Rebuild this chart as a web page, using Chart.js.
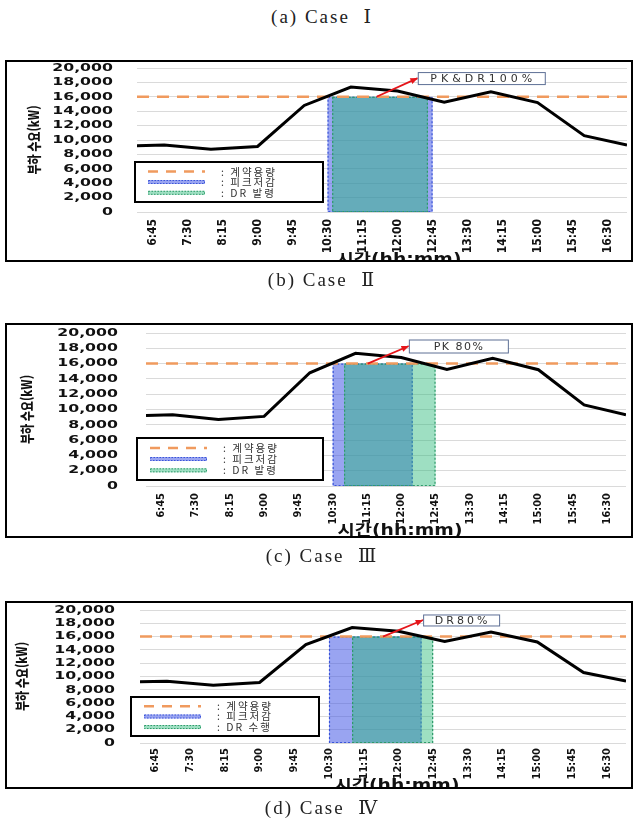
<!DOCTYPE html>
<html lang="ko">
<head>
<meta charset="UTF-8">
<title>부하 수요 - Case II~IV</title>
<script src="https://cdn.jsdelivr.net/npm/chart.js"></script>
<style>
  body { margin: 0; background: #fff; width: 633px; height: 822px; position: relative; overflow: hidden; }
  .cap { position: absolute; left: 0; width: 644px; line-height: 20px; text-align: center; white-space: pre;
         font-family: 'Liberation Serif', 'DejaVu Serif', serif; font-size: 19px; color: #222; letter-spacing: 2px; }
  .panel { position: absolute; left: 5px; width: 628px; overflow: hidden; }
  .panel canvas { position: absolute; left: 0; top: 0; }
  .frame { position: absolute; left: 0; top: 0; right: 0; bottom: 0; border: 2px solid #000; box-sizing: border-box; }
</style>
</head>
<body>

<div class="cap" id="cap0" style="top:7px"></div>
<div class="panel" style="top:60px;height:202px"><canvas id="c1" width="628" height="202"></canvas><div class="frame"></div></div>
<div class="cap" id="cap1" style="top:270px"></div>
<div class="panel" style="top:323px;height:215px"><canvas id="c2" width="628" height="215"></canvas><div class="frame"></div></div>
<div class="cap" id="cap2" style="top:546px"></div>
<div class="panel" style="top:601px;height:188px"><canvas id="c3" width="628" height="188"></canvas><div class="frame"></div></div>
<div class="cap" id="cap3" style="top:798px"></div>

<script>
  // load curve (kW) - same in all three cases
  const times = ['6:25', '7:00', '8:00', '9:00', '10:00', '11:00', '12:00', '13:00', '14:00', '15:00', '16:00', '16:55'];
  const loadKW = [9200, 9300, 8700, 9100, 14800, 17350, 16800, 15250, 16700, 15200, 10600, 9300];
  const contractKW = 16000;
  const tickLabels = ['6:45', '7:30', '8:15', '9:00', '9:45', '10:30', '11:15', '12:00', '12:45', '13:30', '14:15', '15:00', '15:45', '16:30'];

  // shaded periods [start, end]
  const peakCutII = ['10:30', '12:45'];
  const drIssueII = ['10:36', '12:39'];
  const peakCutIII = ['10:30', '12:15'];
  const drIssueIII = ['10:45', '12:45'];
  const peakCutIV = ['10:30', '12:30'];
  const drDoneIV = ['11:00', '12:45'];

  const captions = ['(a) Case  Ⅰ', '(b) Case  Ⅱ', '(c) Case  Ⅲ', '(d) Case  Ⅳ'];
  const notes = ['PK&DR100%', 'PK 80%', 'DR80%'];
  const legendIssue = [': 계약용량', ': 피크저감', ': DR 발령'];
  const legendDone = [': 계약용량', ': 피크저감', ': DR 수행'];

  const ORANGE = '#F09A5E';
  const BLUE_FILL = 'rgba(70, 90, 230, 0.55)';
  const BLUE_EDGE = '#3a55d8';
  const GREEN_FILL = 'rgba(40, 185, 120, 0.45)';
  const GREEN_EDGE = '#2f9a6a';

  captions.forEach((c, i) => { document.getElementById('cap' + i).textContent = c; });

  function toMin(t) {
    const [h, m] = t.split(':').map(Number);
    return h * 60 + m;
  }
  function fmt(v) {
    return Math.floor(v / 60) + ':' + String(v % 60).padStart(2, '0');
  }

  function makeOverlay(g) {
    return {
      id: 'overlay',
      beforeDatasetsDraw(chart) {
        const { ctx, scales: { x, y } } = chart;
        const yb = y.getPixelForValue(0), yt = y.getPixelForValue(contractKW);
        g.bands.forEach(b => {
          const x0 = x.getPixelForValue(toMin(b.span[0]));
          const x1 = x.getPixelForValue(toMin(b.span[1]));
          ctx.save();
          ctx.fillStyle = b.fill;
          ctx.fillRect(x0, yt, x1 - x0, yb - yt);
          ctx.strokeStyle = b.edge;
          ctx.lineWidth = 1.2;
          ctx.setLineDash([2, 2]);
          ctx.strokeRect(x0 + 0.5, yt + 0.5, x1 - x0 - 1, yb - yt - 1);
          ctx.restore();
        });
      },
      afterDatasetsDraw(chart) {
        const { ctx, scales: { x, y } } = chart;
        ctx.save();

        // legend box inside the plot
        const L = g.legend;
        ctx.fillStyle = '#fff';
        ctx.fillRect(L.x, L.y, L.w, L.h);
        ctx.lineWidth = 2;
        ctx.strokeStyle = '#000';
        ctx.strokeRect(L.x, L.y, L.w, L.h);
        const rows = [0.24, 0.5, 0.77].map(f => L.y + L.h * f);
        const sx0 = L.x + 13, sx1 = L.x + 70;
        ctx.strokeStyle = ORANGE;
        ctx.lineWidth = 2.5;
        ctx.setLineDash([10, 8]);
        ctx.beginPath();
        ctx.moveTo(sx0, rows[0]);
        ctx.lineTo(sx1, rows[0]);
        ctx.stroke();
        ctx.setLineDash([1.5, 1.5]);
        ctx.lineWidth = 1;
        [[BLUE_FILL, BLUE_EDGE], [GREEN_FILL, GREEN_EDGE]].forEach(([f, e], i) => {
          const ry = rows[i + 1] - 2;
          ctx.fillStyle = f;
          ctx.fillRect(sx0, ry, sx1 - sx0, 4);
          ctx.strokeStyle = e;
          ctx.strokeRect(sx0 + 0.5, ry + 0.5, sx1 - sx0 - 1, 3);
        });
        ctx.setLineDash([]);
        ctx.fillStyle = '#333';
        ctx.font = "10.5px 'Noto Sans CJK KR', sans-serif";
        ctx.textBaseline = 'middle';
        ctx.textAlign = 'left';
        ctx.letterSpacing = '2px';
        g.legendText.forEach((t, i) => ctx.fillText(t, L.x + 86, rows[i]));

        // red arrow + note box
        const N = g.note;
        const ax = x.getPixelForValue(toMin(N.tail[0])), ay = y.getPixelForValue(N.tail[1]);
        const bx = x.getPixelForValue(toMin(N.tip[0])), by = y.getPixelForValue(N.tip[1]);
        ctx.strokeStyle = '#e5151a';
        ctx.fillStyle = '#e5151a';
        ctx.lineWidth = 1.8;
        ctx.beginPath();
        ctx.moveTo(ax, ay);
        ctx.lineTo(bx, by);
        ctx.stroke();
        const ang = Math.atan2(by - ay, bx - ax);
        ctx.beginPath();
        ctx.moveTo(bx, by);
        ctx.lineTo(bx - 8 * Math.cos(ang - 0.4), by - 8 * Math.sin(ang - 0.4));
        ctx.lineTo(bx - 8 * Math.cos(ang + 0.4), by - 8 * Math.sin(ang + 0.4));
        ctx.closePath();
        ctx.fill();
        ctx.fillStyle = '#fff';
        ctx.fillRect(bx, by - N.h / 2, N.w, N.h);
        ctx.strokeStyle = '#5d6f95';
        ctx.lineWidth = 1;
        ctx.strokeRect(bx + 0.5, by - N.h / 2 + 0.5, N.w, N.h);
        ctx.fillStyle = '#333';
        ctx.font = "11px 'DejaVu Sans', sans-serif";
        ctx.textAlign = 'center';
        ctx.letterSpacing = N.spacing + 'px';
        ctx.fillText(N.text, bx + N.w / 2 + N.spacing / 2, by + 1);
        ctx.restore();
      },
      afterDraw(chart) {
        const { ctx, chartArea: ca, scales: { y } } = chart;
        ctx.save();
        ctx.fillStyle = '#111';
        ctx.textBaseline = 'middle';

        // y tick labels from the scale's ticks, drawn wide like the original
        ctx.textAlign = 'right';
        ctx.font = "bold 10.5px 'DejaVu Sans', sans-serif";
        y.ticks.forEach(t => {
          ctx.save();
          ctx.translate(ca.left - g.yPad, y.getPixelForValue(t.value));
          ctx.scale(1.5, 1);
          ctx.fillText(t.label, 0, 0);
          ctx.restore();
        });

        // axis titles
        ctx.textAlign = 'center';
        ctx.save();
        ctx.translate(g.xTitle[0], g.xTitle[1]);
        ctx.scale(1.25, 1);
        ctx.font = "bold 15px 'DejaVu Sans', 'Noto Sans CJK KR', sans-serif";
        ctx.fillText('시간(hh:mm)', 0, 0);
        ctx.restore();
        ctx.translate(g.yTitleX, (ca.top + ca.bottom) / 2);
        ctx.rotate(-Math.PI / 2);
        ctx.scale(1, 1.25);
        ctx.font = "900 11px 'Noto Sans CJK KR', 'DejaVu Sans', sans-serif";
        ctx.fillText('부하 수요(kW)', 0, 0);
        ctx.restore();
      }
    };
  }

  function makeChart(id, g) {
    const first = toMin(times[0]), last = toMin(times[times.length - 1]);
    return new Chart(document.getElementById(id), {
      type: 'line',
      data: {
        datasets: [
          {
            label: '부하',
            data: times.map((t, i) => ({ x: toMin(t), y: loadKW[i] })),
            borderColor: '#000',
            borderWidth: 3,
            pointRadius: 0,
            tension: 0
          },
          {
            label: '계약용량',
            data: [{ x: first, y: contractKW }, { x: last, y: contractKW }],
            borderColor: ORANGE,
            borderWidth: 2.5,
            borderDash: [12, 8],
            pointRadius: 0
          }
        ]
      },
      options: {
        responsive: false,
        animation: false,
        locale: 'en-US',
        layout: { autoPadding: false, padding: { left: 0, top: g.top, right: g.W - g.right, bottom: 0 } },
        plugins: { legend: { display: false }, tooltip: { enabled: false } },
        scales: {
          x: {
            type: 'linear',
            min: first,
            max: last,
            afterBuildTicks: s => { s.ticks = tickLabels.map(t => ({ value: toMin(t) })); },
            afterFit: s => { s.height = g.H - g.bottom; },
            // tick marks are hidden; their length only spaces the labels
            grid: { display: false, drawTicks: true, tickLength: g.xPad },
            border: { display: false },
            ticks: {
              autoSkip: false,
              minRotation: 90,
              maxRotation: 90,
              padding: 0,
              color: '#111',
              font: { family: "'Liberation Sans Narrow', 'DejaVu Sans Condensed', sans-serif", size: g.xFont, weight: 'bold' },
              callback: v => fmt(v)
            }
          },
          y: {
            min: 0,
            max: 20000,
            afterFit: s => { s.width = g.left; },
            grid: { color: '#dadada', drawTicks: false },
            border: { display: false },
            ticks: { stepSize: 2000, autoSkip: false, display: false }
          }
        }
      },
      plugins: [makeOverlay(g)]
    });
  }

  // Case II
  makeChart('c1', {
    W: 628, H: 202, left: 132, right: 622, top: 8, bottom: 152, yPad: 24, xPad: 7, xFont: 12,
    yTitleX: 29, xTitle: [394, 200],
    bands: [
      { span: peakCutII, fill: BLUE_FILL, edge: BLUE_EDGE },
      { span: drIssueII, fill: GREEN_FILL, edge: GREEN_EDGE }
    ],
    legend: { x: 130, y: 102, w: 188, h: 40 },
    legendText: legendIssue,
    note: { text: notes[0], tail: ['11:33', 16000], tip: ['12:26', 18600], w: 127, h: 12, spacing: 4 }
  });

  // Case III
  makeChart('c2', {
    W: 628, H: 215, left: 141, right: 621, top: 10, bottom: 163, yPad: 28, xPad: 7, xFont: 11,
    yTitleX: 22, xTitle: [395, 208],
    bands: [
      { span: peakCutIII, fill: BLUE_FILL, edge: BLUE_EDGE },
      { span: drIssueIII, fill: GREEN_FILL, edge: GREEN_EDGE }
    ],
    legend: { x: 132, y: 115, w: 186, h: 42 },
    legendText: legendIssue,
    note: { text: notes[1], tail: ['11:16', 16000], tip: ['12:10', 18300], w: 99, h: 13, spacing: 1.5 }
  });

  // Case IV
  makeChart('c3', {
    W: 628, H: 188, left: 135, right: 621, top: 9, bottom: 142, yPad: 25, xPad: 5, xFont: 11,
    yTitleX: 17, xTitle: [392, 185],
    bands: [
      { span: peakCutIV, fill: BLUE_FILL, edge: BLUE_EDGE },
      { span: drDoneIV, fill: GREEN_FILL, edge: GREEN_EDGE }
    ],
    legend: { x: 126, y: 96, w: 188, h: 39 },
    legendText: legendDone,
    note: { text: notes[2], tail: ['11:40', 16000], tip: ['12:32', 18500], w: 76, h: 11, spacing: 3 }
  });
</script>

</body>
</html>
